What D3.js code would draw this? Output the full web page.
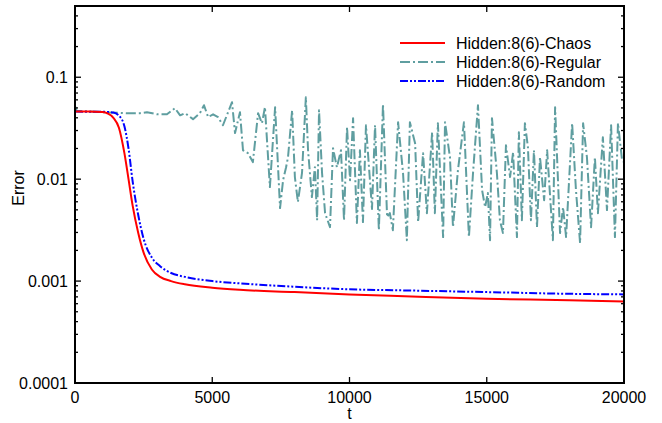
<!DOCTYPE html>
<html>
<head>
<meta charset="utf-8">
<script src="https://cdn.jsdelivr.net/npm/d3@7"></script>
<style>
  body { margin: 0; background: #fff; }
  svg text { font-family: "Liberation Sans", Arial, Helvetica, sans-serif; }
</style>
</head>
<body>
<div id="chart"><svg width="662" height="423"></svg></div>
<script>
// ---- data ----
const chaosT   = [0, 500, 1000, 1200, 1400, 1600, 1800, 1950, 2100, 2300, 2500, 2800, 3100, 3500, 4000, 5000, 6000, 8000, 10000, 12000, 15000, 18000, 20000];
const chaosErr = [0.046, 0.046, 0.0455, 0.044, 0.04, 0.032, 0.018, 0.01, 0.0055, 0.003, 0.0019, 0.0013, 0.0011, 0.001, 0.00093, 0.00086, 0.00082, 0.00078, 0.00074, 0.00071, 0.00067, 0.00065, 0.00063];

const randomT   = [0, 1000, 1400, 1600, 1800, 1950, 2100, 2300, 2500, 2800, 3100, 3500, 4000, 5000, 6000, 8000, 10000, 12000, 15000, 18000, 20000];
const randomErr = [0.046, 0.0458, 0.045, 0.042, 0.033, 0.02, 0.0095, 0.0045, 0.0026, 0.0017, 0.0014, 0.0012, 0.0011, 0.001, 0.00095, 0.00088, 0.00083, 0.00081, 0.00078, 0.00075, 0.00074];

const regularT = [0, 60, 1020, 1890, 2370, 2620, 2990, 3350, 3640, 3830, 4010, 4300, 4550, 4700, 4850, 5030, 5210, 5390, 5720, 5830,
  6010, 6120, 6300, 6480, 6670, 6810, 6920, 7100, 7290, 7470, 7580, 7690, 7760, 7910, 8010, 8120, 8270, 8410, 8490, 8630,
  8740, 8820, 8890, 9000, 9110, 9290, 9400, 9540, 9690, 9800, 9910, 10020, 10130, 10270, 10380, 10490, 10600, 10820, 10930, 11070,
  11220, 11370, 11470, 11580, 11770, 11950, 12090, 12200, 12390, 12500, 12680, 12820, 13010, 13110, 13220, 13410, 13480, 13660, 13770, 13950,
  14170, 14350, 14500, 14680, 14830, 14940, 15040, 15120, 15190, 15370, 15480, 15590, 15700, 15850, 15960, 16100, 16170, 16280, 16390, 16500,
  16610, 16720, 16830, 16940, 17090, 17200, 17410, 17490, 17670, 17780, 17890, 18110, 18250, 18400, 18510, 18650, 18800, 18940, 19050, 19230,
  19380, 19530, 19670, 19780, 19930, 20000];
const regularErr = [0.052, 0.047, 0.0454, 0.0444, 0.0444, 0.0454, 0.0433, 0.0433, 0.0497, 0.0423, 0.0444, 0.0388, 0.0444, 0.0531, 0.0406, 0.0433, 0.0406, 0.0338, 0.0569, 0.0283,
  0.0454, 0.0192, 0.018, 0.0147, 0.0444, 0.0354, 0.0508, 0.00836, 0.0508, 0.0052, 0.00977, 0.0131, 0.0164, 0.0474, 0.0105, 0.00596, 0.0115, 0.0637, 0.0192, 0.00667,
  0.0131, 0.00396, 0.0474, 0.0115, 0.00464, 0.00338, 0.0201, 0.0131, 0.0192, 0.00396, 0.0324, 0.00977, 0.0397, 0.00371, 0.0192, 0.00379, 0.0338, 0.0051, 0.0338, 0.00316,
  0.0543, 0.00424, 0.00464, 0.00316, 0.0362, 0.0115, 0.00252, 0.0362, 0.0225, 0.00379, 0.018, 0.00464, 0.0289, 0.00464, 0.0354, 0.0027, 0.0362, 0.0164, 0.00338, 0.0122,
  0.0362, 0.0027, 0.0115, 0.0531, 0.0078, 0.00531, 0.0073, 0.00252, 0.0397, 0.0115, 0.00396, 0.00296, 0.0215, 0.0105, 0.0184, 0.0027, 0.0289, 0.00396, 0.0354, 0.0206,
  0.00396, 0.0192, 0.00338, 0.0164, 0.00622, 0.0192, 0.00252, 0.0508, 0.00296, 0.00531, 0.0027, 0.0354, 0.0078, 0.00236, 0.0354, 0.0164, 0.00338, 0.0164, 0.00464, 0.0258,
  0.00497, 0.0338, 0.0027, 0.0354, 0.0153, 0.0147];

const seriesNames  = ["Hidden:8(6)-Chaos", "Hidden:8(6)-Regular", "Hidden:8(6)-Random"];
const xTickValues  = [0, 5000, 10000, 15000, 20000];
const yTickValues  = [0.0001, 0.001, 0.01, 0.1];
const yTickLabels  = ["0.0001", "0.001", "0.01", "0.1"];

// ---- setup ----
const width = 662, height = 423;
const margin = {top: 6, left: 75, right: 38, bottom: 40};
const plotWidth = width - margin.left - margin.right;
const plotHeight = height - margin.top - margin.bottom;

const svg = d3.select("#chart").select("svg");

const xScale = d3.scaleLinear().domain([0, 20000]).range([0, plotWidth]);
const yScale = d3.scaleLog().domain([0.0001, 0.5]).range([plotHeight, 0]);

const plot = svg.append("g")
    .attr("transform", `translate(${margin.left}, ${margin.top})`);

const clip = svg.append("clipPath").attr("id", "clip")
    .append("rect").attr("width", plotWidth).attr("height", plotHeight);

// ---- series ----
const series = [
  {name: seriesNames[0], t: chaosT, e: chaosErr, color: "#ff0000", dash: null, w: 2, curve: d3.curveMonotoneX},
  {name: seriesNames[1], t: regularT, e: regularErr, color: "#5f9ea0", dash: "10,3,2,3", w: 2, curve: d3.curveLinear},
  {name: seriesNames[2], t: randomT, e: randomErr, color: "#0000ff", dash: "8,2,2,2,2,2", w: 2, curve: d3.curveMonotoneX}
];

const lines = plot.append("g").attr("clip-path", "url(#clip)");
// draw regular first, then random, then chaos on top
[1, 2, 0].forEach(i => {
  const s = series[i];
  const pts = s.t.map((t, j) => [t, s.e[j]]);
  lines.append("path")
      .datum(pts)
      .attr("fill", "none")
      .attr("stroke", s.color)
      .attr("stroke-width", s.w)
      .attr("stroke-dasharray", s.dash)
      .attr("stroke-linejoin", "round")
      .attr("d", d3.line().x(d => xScale(d[0])).y(d => yScale(d[1])).curve(s.curve));
});

// ---- axes (ticks pointing inward, mirrored) ----
const minorTicks = [];
[0.0001, 0.001, 0.01, 0.1].forEach(dec => {
  for (let k = 2; k <= 9; k++) { if (dec * k <= 0.5) minorTicks.push(dec * k); }
});

const axisG = plot.append("g").attr("stroke", "#000").attr("stroke-width", 1.3);
yTickValues.forEach(v => {
  axisG.append("line").attr("x1", 0).attr("x2", 6).attr("y1", yScale(v)).attr("y2", yScale(v));
  axisG.append("line").attr("x1", plotWidth).attr("x2", plotWidth - 6).attr("y1", yScale(v)).attr("y2", yScale(v));
});
minorTicks.forEach(v => {
  axisG.append("line").attr("x1", 0).attr("x2", 3).attr("y1", yScale(v)).attr("y2", yScale(v));
  axisG.append("line").attr("x1", plotWidth).attr("x2", plotWidth - 3).attr("y1", yScale(v)).attr("y2", yScale(v));
});
xTickValues.forEach(v => {
  axisG.append("line").attr("x1", xScale(v)).attr("x2", xScale(v)).attr("y1", plotHeight).attr("y2", plotHeight - 6);
  axisG.append("line").attr("x1", xScale(v)).attr("x2", xScale(v)).attr("y1", 0).attr("y2", 6);
});

plot.append("rect")
    .attr("width", plotWidth)
    .attr("height", plotHeight)
    .attr("fill", "none")
    .attr("stroke", "#000")
    .attr("stroke-width", 2);

// tick labels
plot.selectAll(".yLabel")
    .data(yTickValues)
    .enter()
    .append("text")
    .attr("class", "yLabel")
    .attr("x", -7)
    .attr("y", d => yScale(d))
    .attr("dy", "0.35em")
    .attr("text-anchor", "end")
    .style("font-size", "16px")
    .text((d, i) => yTickLabels[i]);

plot.selectAll(".xLabel")
    .data(xTickValues)
    .enter()
    .append("text")
    .attr("class", "xLabel")
    .attr("x", d => xScale(d))
    .attr("y", plotHeight + 20)
    .attr("text-anchor", "middle")
    .style("font-size", "16px")
    .text(d => d);

// axis titles
svg.append("text")
    .attr("x", margin.left + plotWidth / 2)
    .attr("y", 419)
    .attr("text-anchor", "middle")
    .style("font-size", "16px")
    .text("t");

svg.append("text")
    .attr("transform", `translate(24, 188) rotate(-90)`)
    .attr("text-anchor", "middle")
    .style("font-size", "16px")
    .text("Error");

// ---- legend ----
const legend = svg.append("g").attr("transform", "translate(400, 43)");
series.forEach((s, i) => {
  legend.append("line")
      .attr("x1", 0).attr("x2", 45)
      .attr("y1", i * 19).attr("y2", i * 19)
      .attr("stroke", s.color)
      .attr("stroke-width", s.w)
      .attr("stroke-dasharray", s.dash);
  legend.append("text")
      .attr("x", 56)
      .attr("y", i * 19)
      .attr("dy", "0.35em")
      .style("font-size", "16px")
      .text(s.name);
});
</script>
</body>
</html>
